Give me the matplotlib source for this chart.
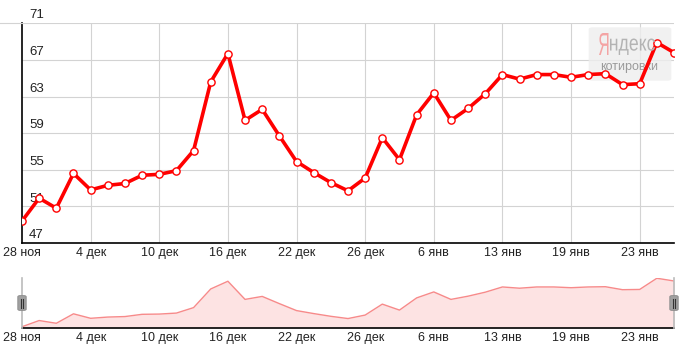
import matplotlib.pyplot as plt
from matplotlib.patches import FancyBboxPatch, PathPatch
from matplotlib.textpath import TextPath
from matplotlib.font_manager import FontProperties
from matplotlib.transforms import Affine2D, IdentityTransform

# котировки по торговым дням (индекс = торговый день)
values = [49.4, 51.9, 50.8, 54.6, 52.8, 53.3, 53.5, 54.4, 54.5, 54.9,
          57.1, 64.6, 67.7, 60.4, 61.6, 58.7, 55.9, 54.7, 53.6, 52.7,
          54.1, 58.5, 56.1, 61.0, 63.4, 60.4, 61.7, 63.3, 65.4, 64.9,
          65.4, 65.4, 65.1, 65.4, 65.5, 64.3, 64.4, 68.9, 67.8]
tick_pos = [0, 4, 8, 12, 16, 20, 24, 28, 32, 36]
tick_labels = ['28 ноя', '4 дек', '10 дек', '16 дек', '22 дек',
               '26 дек', '6 янв', '13 янв', '19 янв', '23 янв']
y_ticks = [47, 51, 55, 59, 63, 67, 71]

W, H = 684, 349
plt.rcParams['font.family'] = ['Liberation Sans', 'DejaVu Sans']
fig = plt.figure(figsize=(W / 100, H / 100), dpi=100)

def fx(px): return px / W
def fy(py): return 1 - py / H

text_c = '#222222'
grid_c = '#d3d3d3'
x = list(range(len(values)))

# основной график
ax = fig.add_axes([fx(22), fy(243), fx(674) - fx(22), fy(23.3) - fy(243)])
ax.set_xlim(0, len(values) - 1)
ax.set_ylim(47, 71)
for t in tick_pos[1:]:
    ax.axvline(t, color=grid_c, lw=0.8, zorder=1)
for v in y_ticks:
    if v != y_ticks[0]:
        ax.axhline(v, color=grid_c, lw=0.8, zorder=1)
    ax.annotate(str(v), (0, v), xytext=(5, 3.5), textcoords='offset points',
                fontsize=9.5, color=text_c, va='baseline', ha='left')
# серая линия слева от верхней сетки
fig.add_artist(plt.Line2D([0, fx(22)], [fy(23.3), fy(23.3)], color=grid_c, lw=0.8))

ax.plot(x, values, color='#ff0000', lw=2.6, zorder=3, solid_joinstyle='round',
        marker='o', ms=5.2, mfc='white', mec='#ff0000', mew=1.0)
for s in ['top', 'right']:
    ax.spines[s].set_visible(False)
for s in ['left', 'bottom']:
    ax.spines[s].set_color('black')
    ax.spines[s].set_linewidth(1.2)
ax.set_yticks([])
ax.set_xticks(tick_pos)
ax.set_xticklabels(tick_labels, fontsize=9, color=text_c)
ax.tick_params(axis='x', length=0, pad=3)

# водяной знак
wm = FancyBboxPatch((fx(590), fy(80)), fx(80), fy(28) - fy(80),
                    boxstyle='round,pad=0.002,rounding_size=0.006',
                    transform=fig.transFigure, fc='#eeeeee', ec='none', alpha=0.8, zorder=2)
ax.add_artist(wm)

def logo_text(s, box, color):
    # текст, растянутый в заданный прямоугольник (пиксели сверху-слева)
    tp = TextPath((0, 0), s, size=20, prop=FontProperties(family='Liberation Sans'))
    ext = tp.get_extents()
    x0, y0, x1, y1 = box
    tr = (Affine2D().translate(-ext.x0, -ext.y0)
          .scale((x1 - x0) / ext.width, (y1 - y0) / ext.height)
          .translate(x0, H - y1))
    p = PathPatch(tr.transform_path(tp), transform=IdentityTransform(),
                  fc=color, ec='none', zorder=2)
    fig.add_artist(p)

logo_text('Я', (599, 33, 608.5, 55), '#f4a4a4')
logo_text('ндекс', (610, 38.5, 655, 55), '#b3b3b3')
ax.text(fx(629), fy(67), 'котировки', transform=fig.transFigure, fontsize=9,
        color='#9a9a9a', va='center', ha='center', zorder=2)

# навигатор
nav = fig.add_axes([fx(22), fy(328), fx(674) - fx(22), fy(278) - fy(328)])
nav.set_xlim(0, len(values) - 1)
nav.set_ylim(48.9, 69.0)
nav.fill_between(x, values, 48.9, color='#fde3e3', lw=0)
nav.plot(x, values, color='#f78a8a', lw=1.0)
nav.axvline(0, color='#bbbbbb', lw=1.2, zorder=4, clip_on=False)
nav.axvline(len(values) - 1, color='#bbbbbb', lw=1.2, zorder=4, clip_on=False)
for s in ['top', 'right', 'left']:
    nav.spines[s].set_visible(False)
nav.spines['bottom'].set_color('black')
nav.spines['bottom'].set_linewidth(1.2)
nav.set_yticks([])
nav.set_xticks(tick_pos)
nav.set_xticklabels(tick_labels, fontsize=9, color=text_c)
nav.tick_params(axis='x', length=0, pad=3)

# ручки навигатора
for hx in [22, 674]:
    h = FancyBboxPatch((fx(hx - 3.5), fy(310)), fx(7), fy(296) - fy(310),
                       boxstyle='round,pad=0.001,rounding_size=0.003',
                       transform=fig.transFigure, fc='#a0a0a0', ec='#888888', lw=0.6, zorder=5)
    fig.add_artist(h)
    for dx in [-1.2, 1.2]:
        fig.add_artist(plt.Line2D([fx(hx + dx), fx(hx + dx)], [fy(307.5), fy(298.5)],
                                  color='#333333', lw=0.8, zorder=6))

fig.savefig('out.png', dpi=100)
